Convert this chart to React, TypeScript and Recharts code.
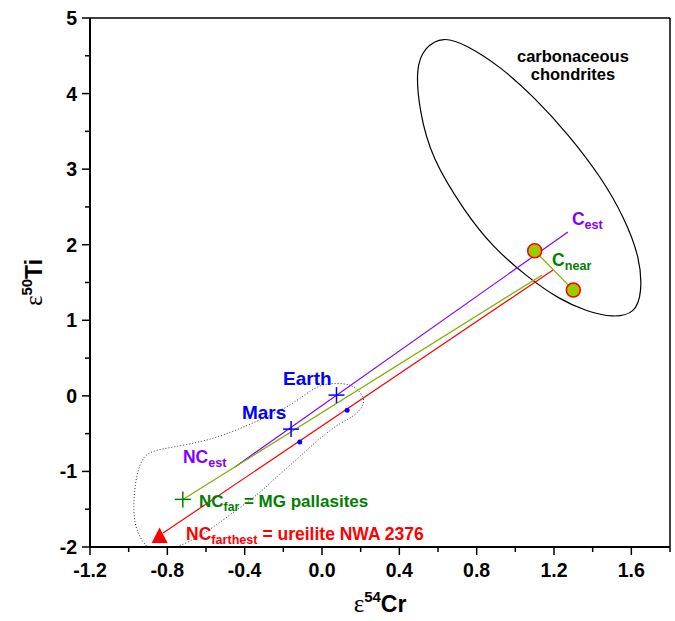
import { ComposedChart, XAxis, YAxis, Line, Scatter, ReferenceLine, ReferenceDot, Label } from 'recharts';

// tick positions (major ticks get labels)
const xTicks = [-1.2, -1.0, -0.8, -0.6, -0.4, -0.2, 0, 0.2, 0.4, 0.6, 0.8, 1.0, 1.2, 1.4, 1.6, 1.8];
const yTicks = [-2, -1.5, -1, -0.5, 0, 0.5, 1, 1.5, 2, 2.5, 3, 3.5, 4, 4.5, 5];

// samples
const earth = [{ x: 0.075, y: 0.01 }];
const mars = [{ x: -0.16, y: -0.44 }];
const ncFar = [{ x: -0.72, y: -1.37 }];
const ncFarthest = [{ x: -0.84, y: -1.86 }];
const terrestrialDots = [
  { x: -0.115, y: -0.61 },
  { x: 0.13, y: -0.19 },
];
const cChondrites = [
  { x: 1.1, y: 1.92 },
  { x: 1.3, y: 1.4 },
];

// mixing lines
const cestLine = [
  { x: -0.45, y: -0.94 },
  { x: 1.272, y: 2.168 },
];
const farLine = [
  { x: -0.72, y: -1.37 },
  { x: 1.139, y: 1.6 },
];
const farthestLine = [
  { x: -0.822, y: -1.815 },
  { x: 1.195, y: 1.665 },
];

// carbonaceous chondrite field outline
const ccField = [
  { x: 0.485, y: 4.34 },
  { x: 0.53, y: 4.61 },
  { x: 0.626, y: 4.76 },
  { x: 0.75, y: 4.64 },
  { x: 0.921, y: 4.36 },
  { x: 1.095, y: 3.96 },
  { x: 1.275, y: 3.46 },
  { x: 1.445, y: 2.89 },
  { x: 1.565, y: 2.353 },
  { x: 1.645, y: 1.824 },
  { x: 1.655, y: 1.37 },
  { x: 1.62, y: 1.09 },
  { x: 1.505, y: 1.035 },
  { x: 1.371, y: 1.115 },
  { x: 1.225, y: 1.28 },
  { x: 1.055, y: 1.585 },
  { x: 0.878, y: 1.985 },
  { x: 0.742, y: 2.425 },
  { x: 0.565, y: 3.147 },
  { x: 0.503, y: 3.783 },
];

// non-carbonaceous field outline (dotted)
const ncField = [
  { x: 0.057, y: 0.17 },
  { x: 0.16, y: 0.157 },
  { x: 0.222, y: -0.015 },
  { x: 0.212, y: -0.148 },
  { x: 0.16, y: -0.28 },
  { x: 0.093, y: -0.36 },
  { x: 0.016, y: -0.505 },
  { x: -0.062, y: -0.677 },
  { x: -0.14, y: -0.862 },
  { x: -0.253, y: -1.113 },
  { x: -0.321, y: -1.286 },
  { x: -0.491, y: -1.603 },
  { x: -0.631, y: -1.868 },
  { x: -0.76, y: -2.013 },
  { x: -0.838, y: -2.05 },
  { x: -0.9, y: -2.04 },
  { x: -0.957, y: -1.815 },
  { x: -0.978, y: -1.55 },
  { x: -0.967, y: -1.113 },
  { x: -0.931, y: -0.809 },
  { x: -0.874, y: -0.717 },
  { x: -0.698, y: -0.65 },
  { x: -0.528, y: -0.545 },
  { x: -0.357, y: -0.359 },
  { x: -0.181, y: -0.161 },
  { x: -0.078, y: 0.038 },
  { x: -0.01, y: 0.144 },
];

const SANS = '"Liberation Sans", Arial, Helvetica, sans-serif';
const PURPLE = '#8000ff';
const GREEN = '#008000';
const OLIVE = '#80b000';
const RED = '#ff0000';
const BLUE = '#0000ff';

const XTick = (props: any) => {
  const { x, y, payload } = props;
  const k = Math.round(payload.value * 10);
  const major = k % 4 === 0;
  return (
    <g>
      <line x1={x} x2={x} y1={y} y2={y + (major ? 8 : 5)} stroke="#000" strokeWidth={1.5} />
      {major && (
        <text x={x} y={y + 30} textAnchor="middle" fontFamily={SANS} fontWeight="bold" fontSize={19.5} fill="#000">
          {(k / 10).toFixed(1)}
        </text>
      )}
    </g>
  );
};

const YTick = (props: any) => {
  const { x, y, payload } = props;
  const major = Number.isInteger(payload.value);
  return (
    <g>
      <line x1={x - (major ? 8 : 5)} x2={x} y1={y} y2={y} stroke="#000" strokeWidth={1.5} />
      {major && (
        <text x={x - 13} y={y + 7} textAnchor="end" fontFamily={SANS} fontWeight="bold" fontSize={19.5} fill="#000">
          {payload.value}
        </text>
      )}
    </g>
  );
};

const XTitle = (props: any) => {
  const vb = props.viewBox;
  return (
    <text x={vb.x + vb.width / 2} y={612} textAnchor="middle" fill="#000">
      <tspan fontFamily='"Liberation Serif", "Times New Roman", serif' fontSize={25}>ε</tspan>
      <tspan fontFamily={SANS} fontWeight="bold" fontSize={15} dy={-10}>54</tspan>
      <tspan fontFamily={SANS} fontWeight="bold" fontSize={23} dy={10}>Cr</tspan>
    </text>
  );
};

const YTitle = (props: any) => {
  const vb = props.viewBox;
  const cx = 42;
  const cy = vb.y + vb.height / 2;
  return (
    <text x={cx} y={cy} textAnchor="middle" fill="#000" transform={`rotate(-90, ${cx}, ${cy})`}>
      <tspan fontFamily='"Liberation Serif", "Times New Roman", serif' fontSize={25}>ε</tspan>
      <tspan fontFamily={SANS} fontWeight="bold" fontSize={15} dy={-10}>50</tspan>
      <tspan fontFamily={SANS} fontWeight="bold" fontSize={23} dy={10}>Ti</tspan>
    </text>
  );
};

const Cross = (color: string, half: number) => (p: any) => (
  <g>
    <line x1={p.cx - half} x2={p.cx + half} y1={p.cy} y2={p.cy} stroke={color} strokeWidth={1.5} />
    <line x1={p.cx} x2={p.cx} y1={p.cy - half} y2={p.cy + half} stroke={color} strokeWidth={1.5} />
  </g>
);

const Triangle = (p: any) => (
  <polygon
    points={`${p.cx},${p.cy - 9} ${p.cx - 8},${p.cy + 6.5} ${p.cx + 8},${p.cy + 6.5}`}
    fill={RED}
  />
);

const Ring = (p: any) => <circle cx={p.cx} cy={p.cy} r={7} fill="#99cc00" stroke={RED} strokeWidth={1.5} />;

const SmallDot = (p: any) => <circle cx={p.cx} cy={p.cy} r={2.5} fill={BLUE} />;

// annotation text, anchored at the left baseline (center for the field name)
const subLabel = (main: string, sub: string, rest: string, color: string, size: number) => (p: any) => (
  <text x={p.cx} y={p.cy} fill={color} fontFamily={SANS} fontWeight="bold" fontSize={size}>
    <tspan>{main}</tspan>
    <tspan fontSize={size * 0.72} dy={4}>{sub}</tspan>
    {rest && <tspan dy={-4}>{rest}</tspan>}
  </text>
);

const plainLabel = (txt: string, color: string, size: number, anchor: string = 'start') => (p: any) => (
  <text x={p.cx} y={p.cy} fill={color} fontFamily={SANS} fontWeight="bold" fontSize={size} textAnchor={anchor}>
    {txt}
  </text>
);

export default function App() {
  return (
    <div style={{ position: 'absolute', left: 0, top: 0 }}>
      <ComposedChart width={675} height={621} margin={{ top: 18, right: 5, bottom: 0, left: 0 }}>
        <XAxis
          type="number"
          dataKey="x"
          domain={[-1.2, 1.8]}
          ticks={xTicks}
          allowDataOverflow
          interval={0}
          height={74}
          tickSize={0}
          tickMargin={0}
          tickLine={false}
          axisLine={{ stroke: '#000', strokeWidth: 2 }}
          tick={XTick}
        >
          <Label content={XTitle} />
        </XAxis>
        <YAxis
          type="number"
          dataKey="y"
          domain={[-2, 5]}
          ticks={yTicks}
          allowDataOverflow
          interval={0}
          width={90}
          tickSize={0}
          tickMargin={0}
          tickLine={false}
          axisLine={{ stroke: '#000', strokeWidth: 2 }}
          tick={YTick}
        >
          <Label content={YTitle} />
        </YAxis>
        <ReferenceLine y={5} stroke="#000" strokeWidth={1.5} />
        <ReferenceLine x={1.8} stroke="#000" strokeWidth={1.5} />

        <Line data={ccField} dataKey="y" type="basisClosed" stroke="#000" strokeWidth={1.2} dot={false} isAnimationActive={false} />
        <Line data={ncField} dataKey="y" type="basisClosed" stroke="#333" strokeWidth={1} strokeDasharray="1 2" dot={false} isAnimationActive={false} />

        <Line data={cestLine} dataKey="y" type="linear" stroke={PURPLE} strokeWidth={1.2} dot={false} isAnimationActive={false} />
        <Line data={farLine} dataKey="y" type="linear" stroke={OLIVE} strokeWidth={1.2} dot={false} isAnimationActive={false} />
        <Line data={farthestLine} dataKey="y" type="linear" stroke={RED} strokeWidth={1.2} dot={false} isAnimationActive={false} />

        <Scatter data={cChondrites} dataKey="y" shape={Ring} line={{ stroke: OLIVE, strokeWidth: 1.2 }} isAnimationActive={false} />
        <Scatter data={terrestrialDots} dataKey="y" shape={SmallDot} isAnimationActive={false} />
        <Scatter data={earth} dataKey="y" shape={Cross(BLUE, 8)} isAnimationActive={false} />
        <Scatter data={mars} dataKey="y" shape={Cross(BLUE, 8)} isAnimationActive={false} />
        <Scatter data={ncFar} dataKey="y" shape={Cross(GREEN, 8)} isAnimationActive={false} />
        <Scatter data={ncFarthest} dataKey="y" shape={Triangle} isAnimationActive={false} />

        <ReferenceDot x={1.298} y={4.418} r={0} shape={plainLabel('carbonaceous', '#000', 16.5, 'middle')} />
        <ReferenceDot x={1.298} y={4.18} r={0} shape={plainLabel('chondrites', '#000', 16.5, 'middle')} />
        <ReferenceDot x={-0.2017} y={0.143} r={0} shape={plainLabel('Earth', BLUE, 19)} />
        <ReferenceDot x={-0.414} y={-0.306} r={0} shape={plainLabel('Mars', BLUE, 19)} />
        <ReferenceDot x={1.293} y={2.261} r={0} shape={subLabel('C', 'est', '', PURPLE, 17.5)} />
        <ReferenceDot x={1.19} y={1.718} r={0} shape={subLabel('C', 'near', '', GREEN, 17.5)} />
        <ReferenceDot x={-0.719} y={-0.889} r={0} shape={subLabel('NC', 'est', '', PURPLE, 17.5)} />
        <ReferenceDot x={-0.636} y={-1.471} r={0} shape={subLabel('NC', 'far', ' = MG pallasites', GREEN, 17)} />
        <ReferenceDot x={-0.703} y={-1.907} r={0} shape={subLabel('NC', 'farthest', ' = ureilite NWA 2376', RED, 17.5)} />
      </ComposedChart>
    </div>
  );
}
